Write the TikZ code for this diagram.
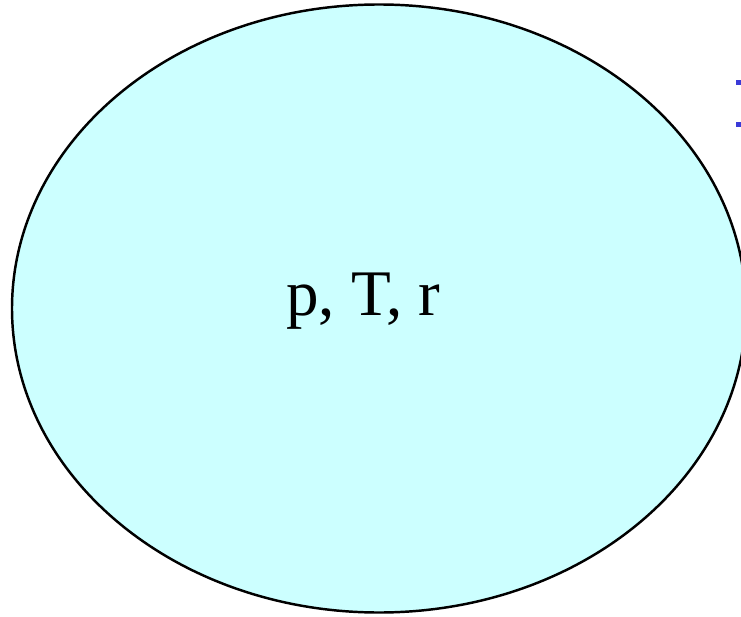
\documentclass[tikz,border=0pt]{standalone}
\usepackage{fontspec}
\setmainfont{Liberation Serif}
\usetikzlibrary{shapes.geometric}
\definecolor{cellcyan}{HTML}{CCFFFF}
\definecolor{markblue}{HTML}{3A3AD8}

\begin{document}
\begin{tikzpicture}
\useasboundingbox (0,0) rectangle (14.82,12.32);
\clip (0,0) rectangle (14.82,12.32);
\filldraw[fill=cellcyan, draw=black, line width=1.4pt] (7.58,6.15) ellipse (7.34cm and 6.08cm);
\node[anchor=base, font=\fontsize{37}{44}\selectfont, inner sep=0pt] (state) at (7.27,6.02) {p, T, r};
\fill[markblue] (14.72,10.62) rectangle (14.82,10.72);
\fill[markblue] (14.72,9.78) rectangle (14.82,9.88);
\end{tikzpicture}
\end{document}
